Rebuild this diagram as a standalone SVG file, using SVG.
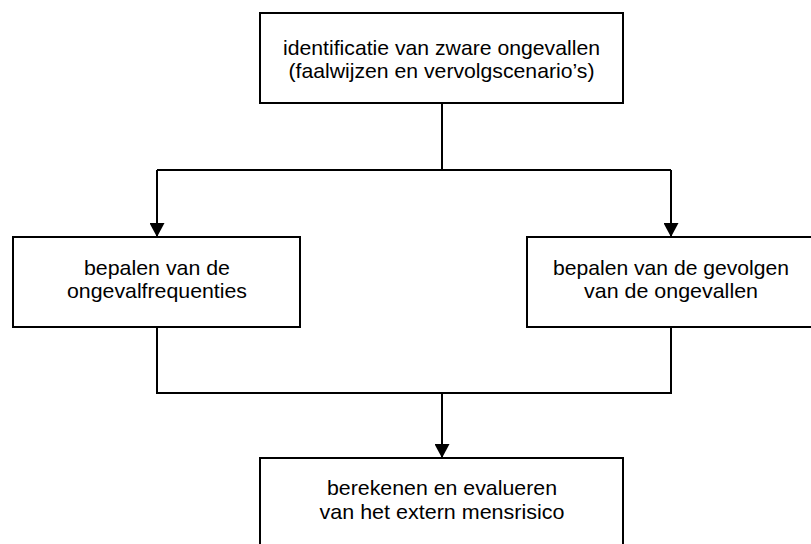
<svg xmlns="http://www.w3.org/2000/svg" width="811" height="544" viewBox="0 0 811 544">
  <style>
    .box { fill: #ffffff; stroke: #000000; stroke-width: 2; }
    .label { font-family: "Liberation Sans", Arial, sans-serif; font-size: 21px; fill: #000000; text-anchor: middle; }
    .wire { fill: none; stroke: #000000; stroke-width: 2; }
  </style>
  <defs>
    <marker id="arrow" viewBox="0 0 14 15" refX="14" refY="7.5" markerWidth="14" markerHeight="15" markerUnits="userSpaceOnUse" orient="auto">
      <path d="M0,0 L14,7.5 L0,15 Z" fill="#000000"/>
    </marker>
  </defs>
  <rect width="811" height="544" fill="#ffffff"/>

  <g id="connectors">
    <!-- split from identification to both analysis steps -->
    <path class="wire" d="M442,104 V170"/>
    <path class="wire" d="M157,170 H671"/>
    <path class="wire" d="M157,170 V237" marker-end="url(#arrow)"/>
    <path class="wire" d="M671,170 V237" marker-end="url(#arrow)"/>
    <!-- merge into the risk calculation -->
    <path class="wire" d="M157,328 V393 H671 V328"/>
    <path class="wire" d="M442,393 V458" marker-end="url(#arrow)"/>
  </g>

  <g id="node-identificatie">
    <rect class="box" x="260" y="13" width="363" height="90"/>
    <text class="label" x="441.5" y="55" textLength="317" lengthAdjust="spacingAndGlyphs">identificatie van zware ongevallen</text>
    <text class="label" x="441.5" y="78" textLength="306" lengthAdjust="spacingAndGlyphs">(faalwijzen en vervolgscenario’s)</text>
  </g>

  <g id="node-frequenties">
    <rect class="box" x="13" y="237" width="287" height="90"/>
    <text class="label" x="157" y="275" textLength="146" lengthAdjust="spacingAndGlyphs">bepalen van de</text>
    <text class="label" x="157" y="297.5" textLength="180" lengthAdjust="spacingAndGlyphs">ongevalfrequenties</text>
  </g>

  <g id="node-gevolgen">
    <rect class="box" x="527" y="237" width="288" height="90"/>
    <text class="label" x="671" y="275" textLength="236" lengthAdjust="spacingAndGlyphs">bepalen van de gevolgen</text>
    <text class="label" x="671" y="297.5" textLength="174" lengthAdjust="spacingAndGlyphs">van de ongevallen</text>
  </g>

  <g id="node-mensrisico">
    <rect class="box" x="260" y="458" width="363" height="100"/>
    <text class="label" x="442" y="495" textLength="230" lengthAdjust="spacingAndGlyphs">berekenen en evalueren</text>
    <text class="label" x="442" y="518.5" textLength="245" lengthAdjust="spacingAndGlyphs">van het extern mensrisico</text>
  </g>
</svg>
